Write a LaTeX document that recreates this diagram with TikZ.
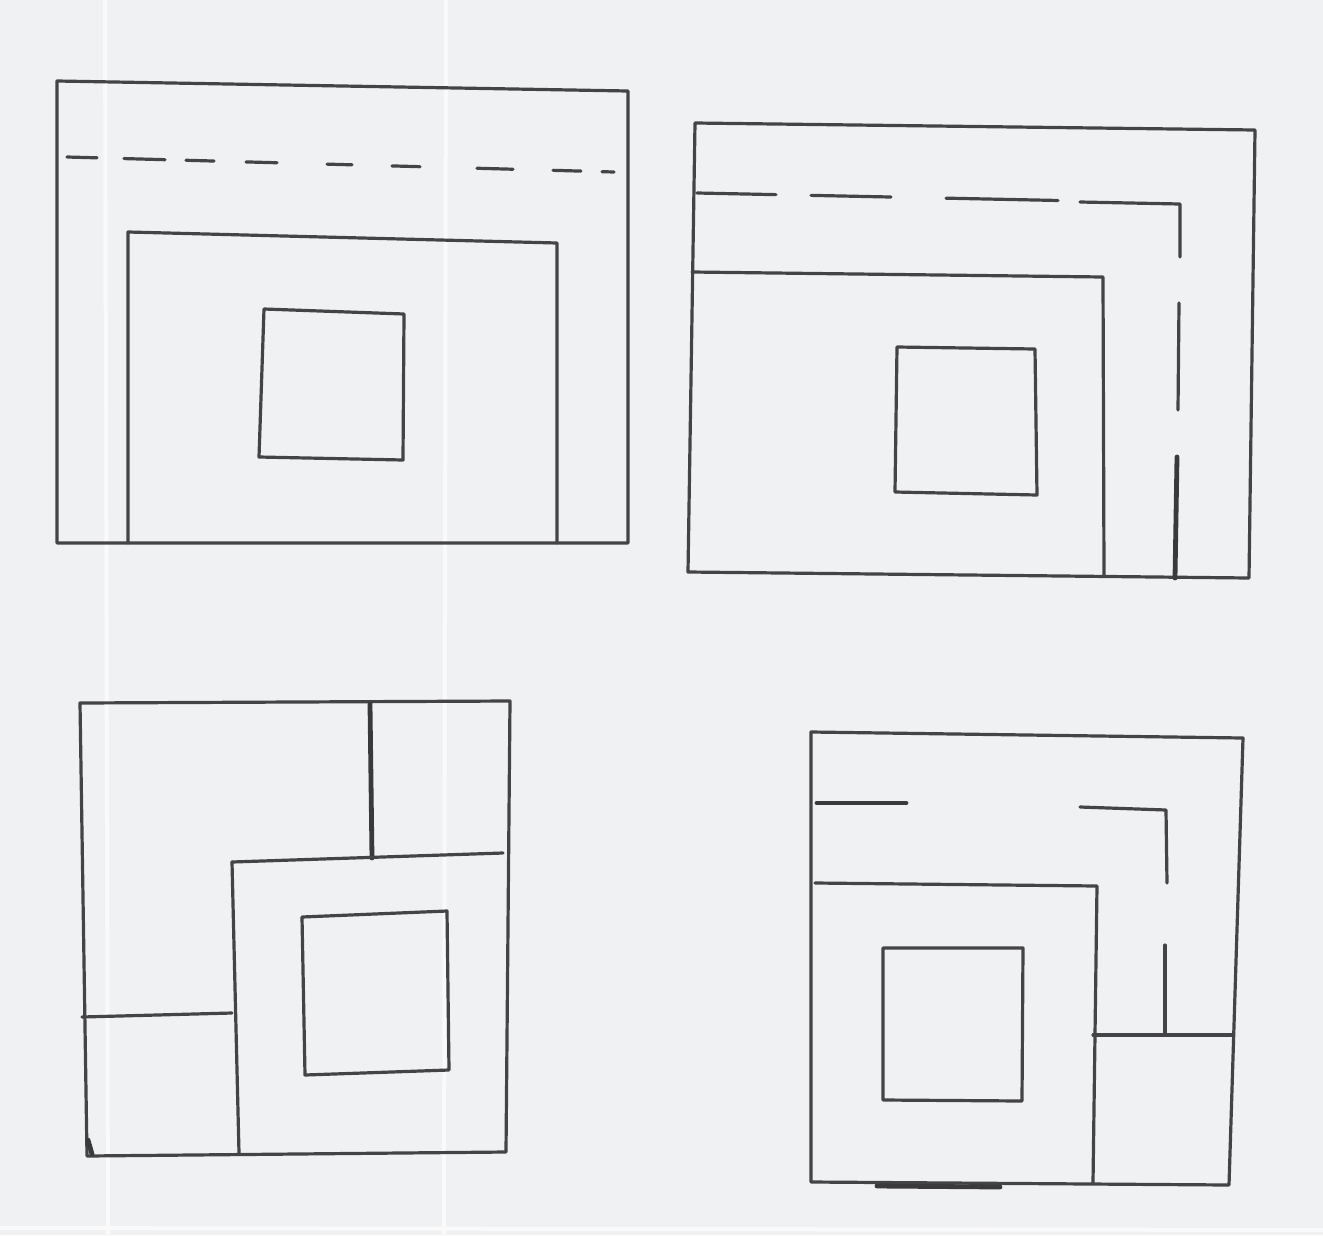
\documentclass[tikz,border=0pt]{standalone}
\begin{document}
\begin{tikzpicture}[x=1pt,y=-1pt,line join=round,line cap=round]
\definecolor{paper}{RGB}{240,241,243}
\definecolor{pencil}{RGB}{68,68,72}
\definecolor{fold}{RGB}{250,250,251}
\tikzset{
  pen/.style={draw=pencil,line width=3.2pt},
  heavy/.style={draw=pencil!85!black,line width=4.8pt},
  foldline/.style={draw=fold,line width=4pt}
}
\useasboundingbox (0,0) rectangle (1323,1235);
\fill[paper] (0,0) rectangle (1323,1235);
\draw[foldline] (105,0) -- (108,1235);
\draw[foldline] (446,0) -- (444,1235);
\draw[foldline] (0,1228) -- (1323,1230);

% ---------- Panel 1 (top left) ----------
\draw[pen] (57,81) -- (628,91) -- (628,543) -- (57,543) -- cycle;
\foreach \a/\b in {67/97,124/165,186/214,246/277,327/352,392/420,477/513,553/581,602/614}{
  \draw[pen] (\a,{157+(\a-67)*15/547}) -- (\b,{157+(\b-67)*15/547});
}
\draw[pen] (128,543) -- (128,232) -- (557,243) -- (557,543);
\draw[pen] (264,309) -- (404,314) -- (403,460) -- (259,457) -- cycle;

% ---------- Panel 2 (top right) ----------
\draw[pen] (695,123) -- (1255,130) -- (1249,578) -- (688,572) -- cycle;
\foreach \a/\b in {697/776,811/891,946/1058}{
  \draw[pen] (\a,{193+(\a-697)*10/483}) -- (\b,{193+(\b-697)*10/483});
}
\draw[pen] (1080,202) -- (1180,204) -- (1180,257);
\draw[pen] (1179,303) -- (1178,410);
\draw[heavy] (1177,457) -- (1175,578);
\draw[pen] (692,272) -- (1103,277) -- (1104,575);
\draw[pen] (897,347) -- (1035,349) -- (1037,495) -- (895,492) -- cycle;

% ---------- Panel 3 (bottom left) ----------
\draw[pen] (80,703) -- (510,701) -- (506,1152) -- (87,1156) -- cycle;
\draw[heavy] (370,704) -- (372,858);
\draw[pen] (232,862) -- (503,853);
\draw[pen] (232,862) -- (239,1153);
\draw[pen] (82,1017) -- (232,1013);
\draw[pen] (302,917) -- (447,911) -- (449,1070) -- (305,1075) -- cycle;
\draw[heavy] (88,1140) -- (92,1154);

% ---------- Panel 4 (bottom right) ----------
\draw[pen] (811,732) -- (1243,738) -- (1229,1185) -- (811,1182) -- cycle;
\draw[heavy] (817,803) -- (906,803);
\draw[pen] (1080,807) -- (1166,810) -- (1167,883);
\draw[pen] (1165,945) -- (1165,1035);
\draw[pen] (815,883) -- (1097,886) -- (1093,1183);
\draw[pen] (1093,1035) -- (1233,1035);
\draw[pen] (883,948) -- (1023,948) -- (1022,1101) -- (883,1100) -- cycle;
\draw[heavy] (877,1186) -- (1000,1187);
\end{tikzpicture}
\end{document}
